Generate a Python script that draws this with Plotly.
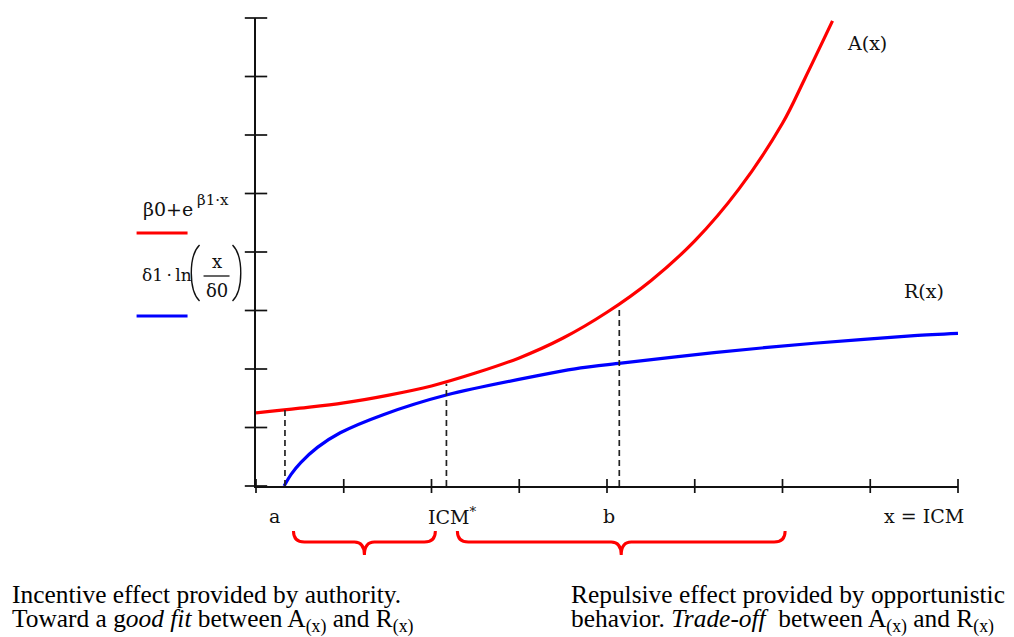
import plotly.graph_objects as go

# ---------------- data (axis units = tick steps) ----
red_x = [0.0, 0.5, 1.0, 1.5, 2.0, 2.5, 3.0, 3.5, 4.0, 4.5, 5.0, 5.5, 6.0, 6.25, 6.57]
red_y = [1.25, 1.33, 1.42, 1.55, 1.71, 1.93, 2.19, 2.53, 2.97, 3.51, 4.19, 5.07, 6.20, 6.95, 7.95]

blue_x = [0.32, 0.40, 0.51, 0.70, 0.96, 1.45, 2.18, 3.36, 3.70, 4.16, 5.22, 6.36, 7.50, 8.0]
blue_y = [0.0, 0.20, 0.40, 0.66, 0.91, 1.22, 1.56, 1.93, 2.02, 2.10, 2.28, 2.44, 2.57, 2.61]

guide_x = [0.33, 2.17, 4.14]          # a, ICM*, b
guide_top = [1.31, 1.75, 3.06]

tick_vals = [0, 1, 2, 3, 4, 5, 6, 7, 8]

xlabel_text = ["a", "ICM<sup>*</sup>", "b", "x = ICM"]
xlabel_pos = [0.21, 2.24, 4.02, 7.61]

# ---------------- geometry helpers (pixel -> paper) ----------------
FIG_W, FIG_H = 1014, 637
L, T, W, H = 255.5, 18, 702.5, 468


def PX(x):
    return (x - L) / W


def PY(y):
    return (T + H - y) / H


MFONT = "DejaVu Serif"
TFONT = "Liberation Serif"
INK = "#111111"

fig = go.Figure()

# curves
fig.add_trace(go.Scatter(x=red_x, y=red_y, mode="lines",
                         line=dict(color="#ff0000", width=3.2, shape="spline", smoothing=1.0),
                         hoverinfo="skip", showlegend=False))
fig.add_trace(go.Scatter(x=blue_x, y=blue_y, mode="lines",
                         line=dict(color="#0000ff", width=3.2, shape="spline", smoothing=0.8),
                         hoverinfo="skip", showlegend=False))

# dashed guides
gx, gy = [], []
for x, t in zip(guide_x, guide_top):
    gx += [x, x, None]
    gy += [0, t, None]
fig.add_trace(go.Scatter(x=gx, y=gy, mode="lines",
                         line=dict(color="#222222", width=1.7, dash="6px,4px"),
                         hoverinfo="skip", showlegend=False))

# crossing tick marks
fig.add_trace(go.Scatter(x=tick_vals, y=[0] * len(tick_vals), mode="markers",
                         marker=dict(symbol="line-ns", size=10, line=dict(color=INK, width=1.7)),
                         cliponaxis=False, hoverinfo="skip", showlegend=False))
fig.add_trace(go.Scatter(x=[0] * len(tick_vals), y=tick_vals, mode="markers",
                         marker=dict(symbol="line-ew", size=16, line=dict(color=INK, width=1.7)),
                         cliponaxis=False, hoverinfo="skip", showlegend=False))

ann = []
# x labels
for t, x in zip(xlabel_text, xlabel_pos):
    ann.append(dict(x=x, xref="x", y=PY(516), yref="paper", text=t, showarrow=False,
                    xanchor="center", yanchor="middle", font=dict(family=MFONT, size=19, color=INK)))

# curve labels
ann.append(dict(x=PX(867), y=PY(43), xref="paper", yref="paper", text="A(x)", showarrow=False,
                xanchor="center", yanchor="middle", font=dict(family=MFONT, size=19, color=INK)))
ann.append(dict(x=PX(924), y=PY(291), xref="paper", yref="paper", text="R(x)", showarrow=False,
                xanchor="center", yanchor="middle", font=dict(family=MFONT, size=19, color=INK)))

# legend-like formulas
ann.append(dict(x=PX(140), y=PY(209), xref="paper", yref="paper", xanchor="left", yanchor="middle",
                text="β0+e", showarrow=False, font=dict(family=MFONT, size=19, color=INK)))
ann.append(dict(x=PX(194), y=PY(200), xref="paper", yref="paper", xanchor="left", yanchor="middle",
                text="β1·x", showarrow=False, font=dict(family=MFONT, size=15, color=INK)))
ann.append(dict(x=PX(139), y=PY(275), xref="paper", yref="paper", xanchor="left", yanchor="middle",
                text="δ1\u2009·\u2009ln", showarrow=False, font=dict(family=MFONT, size=17, color=INK)))
ann.append(dict(x=PX(216), y=PY(261), xref="paper", yref="paper", xanchor="center", yanchor="middle",
                text="x", showarrow=False, font=dict(family=MFONT, size=18, color=INK)))
ann.append(dict(x=PX(216), y=PY(291), xref="paper", yref="paper", xanchor="center", yanchor="middle",
                text="δ0", showarrow=False, font=dict(family=MFONT, size=18, color=INK)))

# bottom texts
BT = dict(family=TFONT, size=25.4, color="#000")
ann.append(dict(x=PX(9), y=PY(594), xref="paper", yref="paper", xanchor="left", yanchor="middle",
                text="Incentive effect provided by authority.", showarrow=False, font=BT))
ann.append(dict(x=PX(9), y=PY(621), xref="paper", yref="paper", xanchor="left", yanchor="middle",
                text="Toward a g<i>ood fit</i> between A<sub>(x)</sub> and R<sub>(x)</sub>",
                showarrow=False, font=BT))
ann.append(dict(x=PX(569), y=PY(594), xref="paper", yref="paper", xanchor="left", yanchor="middle",
                text="Repulsive effect provided by opportunistic", showarrow=False, font=BT))
ann.append(dict(x=PX(569), y=PY(621), xref="paper", yref="paper", xanchor="left", yanchor="middle",
                text="behavior. <i>Trade-off</i>  between A<sub>(x)</sub> and R<sub>(x)</sub>",
                showarrow=False, font=BT))

shapes = []
# legend line samples
shapes.append(dict(type="line", xref="paper", yref="paper", x0=PX(136), x1=PX(187), y0=PY(233), y1=PY(233),
                   line=dict(color="#ff0000", width=3)))
shapes.append(dict(type="line", xref="paper", yref="paper", x0=PX(136), x1=PX(187), y0=PY(316), y1=PY(316),
                   line=dict(color="#0000ff", width=3)))
# fraction bar
shapes.append(dict(type="line", xref="paper", yref="paper", x0=PX(203), x1=PX(229), y0=PY(276), y1=PY(276),
                   line=dict(color=INK, width=1.3)))


def P(x, y):
    return f"{PX(x):.5f},{PY(y):.5f}"


# big parentheses
shapes.append(dict(type="path", xref="paper", yref="paper",
                   path=f"M {P(199,245)} C {P(188,256)} {P(188,290)} {P(199,301)}",
                   line=dict(color=INK, width=1.4)))
shapes.append(dict(type="path", xref="paper", yref="paper",
                   path=f"M {P(232,245)} C {P(243,256)} {P(243,290)} {P(232,301)}",
                   line=dict(color=INK, width=1.4)))


def brace(x0, x1, xm, y_end=531, y_bar=542, y_tip=555, r=11, r2=10):
    return (f"M {P(x0,y_end)} Q {P(x0,y_bar)} {P(x0+r,y_bar)} L {P(xm-r2,y_bar)} "
            f"Q {P(xm,y_bar)} {P(xm,y_tip)} Q {P(xm,y_bar)} {P(xm+r2,y_bar)} "
            f"L {P(x1-r,y_bar)} Q {P(x1,y_bar)} {P(x1,y_end)}")


shapes.append(dict(type="path", xref="paper", yref="paper", path=brace(293, 435, 364),
                   line=dict(color="#ff0000", width=3)))
shapes.append(dict(type="path", xref="paper", yref="paper", path=brace(457, 785, 621),
                   line=dict(color="#ff0000", width=3)))

fig.update_layout(
    width=FIG_W, height=FIG_H,
    margin=dict(l=L, r=FIG_W - L - W, t=T, b=FIG_H - T - H, pad=0),
    paper_bgcolor="white", plot_bgcolor="white",
    showlegend=False,
    xaxis=dict(range=[0, 8], showgrid=False, zeroline=False, showticklabels=False, ticks="",
               showline=True, linecolor=INK, linewidth=2),
    yaxis=dict(range=[0, 8], showgrid=False, zeroline=False, showticklabels=False, ticks="",
               showline=True, linecolor=INK, linewidth=2),
    annotations=ann, shapes=shapes,
)

fig.write_html("out.html", config={"displayModeBar": False},
               post_script="document.body.style.margin='0';document.body.style.overflow='hidden';")
